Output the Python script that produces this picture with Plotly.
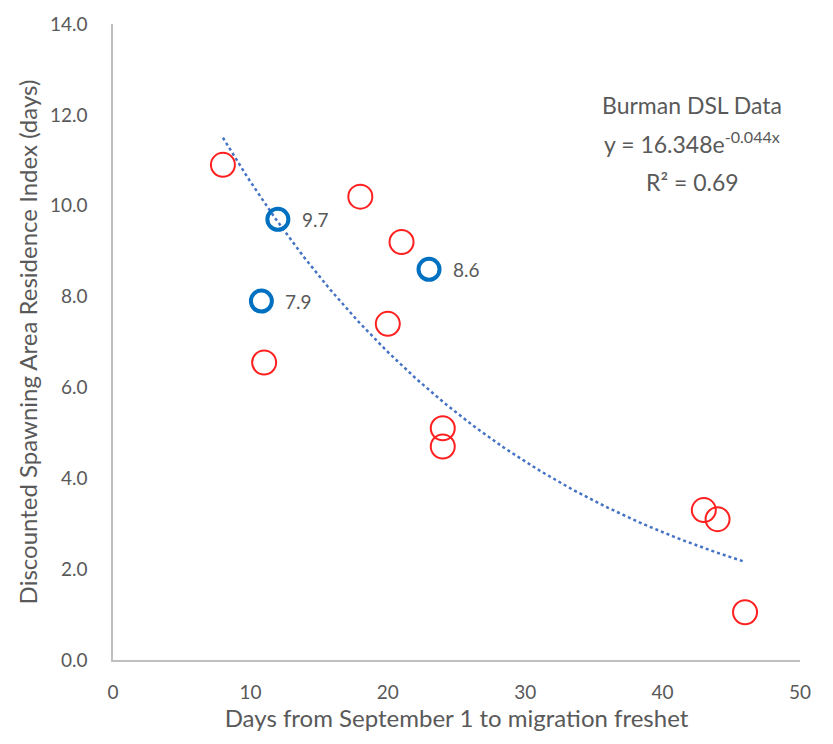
import numpy as np
import plotly.graph_objects as go

# Observed years (red open circles)
days_obs = [8, 11, 18, 20, 21, 24, 24, 43, 44, 46]
index_obs = [10.9, 6.55, 10.2, 7.4, 9.2, 5.1, 4.7, 3.3, 3.1, 1.05]

# Highlighted years with labels (blue open circles)
days_hi = [12, 10.8, 23]
index_hi = [9.7, 7.9, 8.6]
labels_hi = ["9.7", "7.9", "8.6"]

# Exponential fit y = a * exp(b * x)
fit_a = 16.348
fit_b = -0.044
fit_r2 = 0.69
fit_range = [8, 46]

x_ticks = [0, 10, 20, 30, 40, 50]
y_ticks = [0, 2, 4, 6, 8, 10, 12, 14]

GRAY = "#595959"
FONT = "Lato, Open Sans, sans-serif"

fit_x = np.linspace(fit_range[0], fit_range[1], 200)
fit_y = fit_a * np.exp(fit_b * fit_x)

fig = go.Figure()

fig.add_trace(go.Scatter(
    x=fit_x, y=fit_y, mode="lines",
    line=dict(color="#4472C4", width=2.5, dash="dot"),
    hoverinfo="skip", showlegend=False,
))

fig.add_trace(go.Scatter(
    x=days_obs, y=index_obs, mode="markers",
    marker=dict(symbol="circle-open", size=24, color="#FF2020",
                line=dict(width=2, color="#FF2020")),
    showlegend=False,
))

fig.add_trace(go.Scatter(
    x=days_hi, y=index_hi, mode="markers",
    marker=dict(symbol="circle-open", size=21, color="#0070C0",
                line=dict(width=4, color="#0070C0")),
    showlegend=False,
))

# value labels beside the highlighted points
for xv, yv, lab in zip(days_hi, index_hi, labels_hi):
    fig.add_annotation(
        x=xv, y=yv, text=lab, showarrow=False,
        xanchor="left", yanchor="middle", xshift=22,
        font=dict(family=FONT, size=19, color=GRAY),
    )

# trendline caption, one annotation per line
caption = [
    "Burman DSL Data",
    f"y = {fit_a:.3f}e<sup>{fit_b:.3f}x</sup>",
    f"R² = {fit_r2:.2f}",
]
caption_y = [0.872, 0.813, 0.752]
for txt, yp in zip(caption, caption_y):
    fig.add_annotation(
        x=0.843, y=yp, xref="paper", yref="paper",
        xanchor="center", yanchor="middle", showarrow=False,
        text=txt, font=dict(family=FONT, size=23, color=GRAY),
    )

fig.update_layout(
    width=833, height=744,
    margin=dict(l=113, r=33, t=22, b=84),
    paper_bgcolor="white", plot_bgcolor="white",
    font=dict(family=FONT, color=GRAY),
    xaxis=dict(
        range=[0, 50], tickvals=x_ticks, showgrid=False, zeroline=False,
        showline=True, linecolor="#BFBFBF", linewidth=1.5,
        tickfont=dict(size=19, color=GRAY), ticklabelstandoff=14,
        title=dict(text="Days from September 1 to migration freshet",
                   font=dict(size=24, color=GRAY), standoff=1),
    ),
    yaxis=dict(
        range=[0, 14], tickvals=y_ticks, tickformat=".1f", showgrid=False,
        zeroline=False, showline=True, linecolor="#BFBFBF", linewidth=1.5,
        tickfont=dict(size=19, color=GRAY), ticklabelstandoff=20,
        title=dict(text="Discounted Spawning Area Residence Index (days)",
                   font=dict(size=24, color=GRAY), standoff=6),
    ),
)

fig.write_html("out.html")
